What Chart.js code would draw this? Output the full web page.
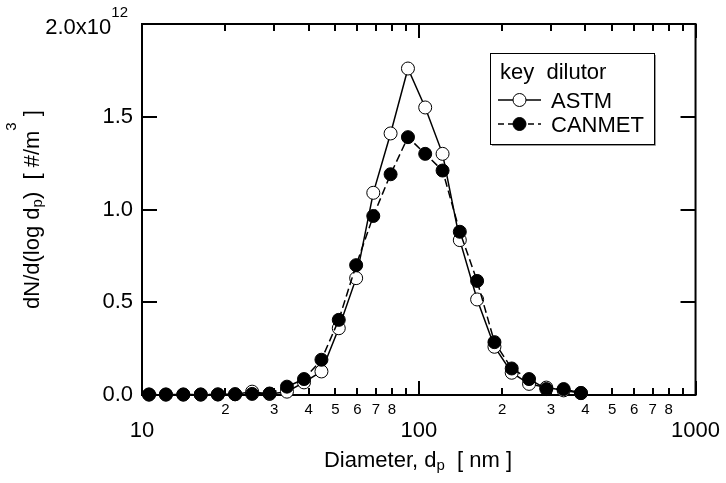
<!DOCTYPE html>
<html>
<head>
<meta charset="utf-8">
<script src="https://cdn.jsdelivr.net/npm/chart.js@4.4.0/dist/chart.umd.min.js"></script>
<style>
  html, body { margin: 0; padding: 0; background: #fff; }
</style>
</head>
<body>
<canvas id="myChart" width="726" height="483"></canvas>
<script>
// ---- data (dN/dlogDp in units of 1e12 #/m3) ----
const diameters = [10.6, 12.2, 14.1, 16.3, 18.8, 21.7, 25.0, 28.9, 33.4, 38.5, 44.5, 51.4, 59.4,
  68.5, 79.1, 91.4, 105.5, 121.9, 140.7, 162.5, 187.7, 216.7, 250.3, 289.0, 333.8, 385.5];
const astm = [0.002, 0.002, 0.002, 0.002, 0.003, 0.004, 0.018, 0.006, 0.018, 0.068, 0.127, 0.36, 0.63,
  1.09, 1.41, 1.76, 1.55, 1.30, 0.835, 0.515, 0.26, 0.12, 0.06, 0.04, 0.025, 0.01];
const canmet = [0.003, 0.003, 0.003, 0.003, 0.003, 0.004, 0.006, 0.008, 0.045, 0.086, 0.19, 0.405, 0.70,
  0.965, 1.19, 1.39, 1.30, 1.21, 0.88, 0.615, 0.285, 0.143, 0.086, 0.032, 0.032, 0.011];
const xTicks = [10, 20, 30, 40, 50, 60, 70, 80, 90, 100, 200, 300, 400, 500, 600, 700, 800, 900, 1000];
const yTicks = [0, 0.5, 1.0, 1.5, 2.0];

const FONT = "'Liberation Sans', Arial, sans-serif";
const BIG = 22, SMALL = 15;
const isMajor = (v) => v === 10 || v === 100 || v === 1000;

// draw text made of pieces (normal / sub / sup)
function drawRich(ctx, parts, x, y, align) {
  let total = 0;
  parts.forEach(p => { ctx.font = p.size + "px " + FONT; total += ctx.measureText(p.t).width; });
  let cx = align === "center" ? x - total / 2 : (align === "right" ? x - total : x);
  ctx.textAlign = "left";
  ctx.textBaseline = "alphabetic";
  parts.forEach(p => {
    ctx.font = p.size + "px " + FONT;
    ctx.fillText(p.t, cx, y + (p.dy || 0));
    cx += ctx.measureText(p.t).width;
  });
}

//////////////////////// frame + inward ticks ////////////////////////
const framePlugin = {
  id: "frame",
  beforeDatasetsDraw(chart) {
    const { ctx, chartArea: a, scales } = chart;
    const x = scales.x, y = scales.y;
    ctx.save();
    ctx.strokeStyle = "#000";
    ctx.lineWidth = 2;
    ctx.strokeRect(a.left, a.top, a.right - a.left, a.bottom - a.top);
    ctx.beginPath();
    xTicks.forEach(v => {
      const px = Math.round(x.getPixelForValue(v));
      const len = isMajor(v) ? 14 : 7;
      ctx.moveTo(px, a.bottom); ctx.lineTo(px, a.bottom - len);
      ctx.moveTo(px, a.top); ctx.lineTo(px, a.top + len);
    });
    yTicks.forEach(v => {
      const py = Math.round(y.getPixelForValue(v));
      ctx.moveTo(a.left, py); ctx.lineTo(a.left + 15, py);
      ctx.moveTo(a.right, py); ctx.lineTo(a.right - 15, py);
    });
    ctx.stroke();
    ctx.restore();
  },
  afterDraw(chart) {
    const { ctx, chartArea: a, scales } = chart;
    ctx.save();
    ctx.fillStyle = "#000";
    // top y label 2.0x10^12
    const yTop = scales.y.getPixelForValue(2.0);
    drawRich(ctx, [{ t: "2.0x10", size: BIG }, { t: "12", size: SMALL, dy: -16.5 }], 128, yTop + 9.5, "right");
    // x title
    drawRich(ctx, [{ t: "Diameter, d", size: BIG }, { t: "p", size: SMALL, dy: 3 }, { t: "  [ nm ]", size: BIG }],
      418, 467, "center");
    // y title
    ctx.save();
    ctx.translate(39, (a.top + a.bottom) / 2);
    ctx.rotate(-Math.PI / 2);
    drawRich(ctx, [{ t: "dN/d(log d", size: BIG }, { t: "p", size: SMALL, dy: 3 }, { t: ")  [ #/m", size: BIG },
      { t: "3", size: SMALL, dy: -23 }, { t: " ]", size: BIG }], 0, 0, "center");
    ctx.restore();

    // legend box
    const bx = 490, by = 53, bw = 164, bh = 91;
    ctx.fillStyle = "#fff";
    ctx.fillRect(bx, by, bw, bh);
    ctx.strokeStyle = "#999";
    ctx.lineWidth = 1;
    ctx.beginPath();
    ctx.moveTo(bx + bw + 1.5, by + 2); ctx.lineTo(bx + bw + 1.5, by + bh + 1.5); ctx.lineTo(bx + 2, by + bh + 1.5);
    ctx.stroke();
    ctx.strokeStyle = "#000";
    ctx.strokeRect(bx + 0.5, by + 0.5, bw, bh);
    ctx.fillStyle = "#000";
    drawRich(ctx, [{ t: "key  dilutor", size: BIG }], 500, 79, "left");
    const rows = [
      { label: "ASTM", ly: 100, dash: [], fill: "#fff" },
      { label: "CANMET", ly: 124, dash: [6, 4], fill: "#000" }
    ];
    rows.forEach(r => {
      ctx.strokeStyle = "#000";
      ctx.lineWidth = 1.5;
      ctx.setLineDash(r.dash);
      ctx.beginPath();
      ctx.moveTo(498, r.ly); ctx.lineTo(541, r.ly);
      ctx.stroke();
      ctx.setLineDash([]);
      ctx.beginPath();
      ctx.arc(519.5, r.ly, 6.5, 0, Math.PI * 2);
      ctx.fillStyle = r.fill;
      ctx.fill();
      ctx.lineWidth = 1;
      ctx.stroke();
      ctx.fillStyle = "#000";
      drawRich(ctx, [{ t: r.label, size: BIG }], 551, r.ly + 8, "left");
    });
    ctx.restore();
  }
};

//////////////////////// chart ////////////////////////
const data = {
  datasets: [
    {
      label: "ASTM",
      data: diameters.map((d, i) => ({ x: d, y: astm[i] })),
      showLine: true,
      borderColor: "#000",
      borderWidth: 1.5,
      pointRadius: 6.5,
      pointBorderWidth: 1,
      pointBackgroundColor: "#fff",
      pointBorderColor: "#000",
      order: 1,
      clip: false
    },
    {
      label: "CANMET",
      data: diameters.map((d, i) => ({ x: d, y: canmet[i] })),
      showLine: true,
      borderColor: "#000",
      borderWidth: 1.5,
      borderDash: [8, 4],
      pointRadius: 6.5,
      pointBorderWidth: 1,
      pointBackgroundColor: "#000",
      pointBorderColor: "#000",
      order: 0,
      clip: false
    }
  ]
};

const config = {
  type: "scatter",
  data: data,
  plugins: [framePlugin],
  options: {
    responsive: false,
    animation: false,
    layout: { padding: { top: 24, right: 27, left: 0, bottom: 0 } },
    plugins: { legend: { display: false }, tooltip: { enabled: false } },
    scales: {
      x: {
        type: "logarithmic",
        min: 10,
        max: 1000,
        grid: { display: false, drawTicks: false },
        border: { display: false },
        afterBuildTicks: (s) => { s.ticks = xTicks.map(v => ({ value: v, major: isMajor(v) })); },
        afterFit: (s) => { s.height = 88; },
        ticks: {
          autoSkip: false,
          maxRotation: 0,
          minRotation: 0,
          padding: 6,
          color: "#000",
          font: (c) => (c.tick && isMajor(c.tick.value))
            ? { family: FONT, size: BIG, lineHeight: 0.9 }
            : { family: FONT, size: SMALL, lineHeight: 1.2 },
          callback: (v) => {
            if (isMajor(v)) return ["", String(v)];
            const d = Math.round(v / Math.pow(10, Math.floor(Math.log10(v) + 1e-9)));
            return d === 9 ? "" : String(d);
          }
        }
      },
      y: {
        type: "linear",
        min: 0,
        max: 2.0,
        grid: { display: false, drawTicks: false },
        border: { display: false },
        afterBuildTicks: (s) => { s.ticks = yTicks.map(v => ({ value: v })); },
        afterFit: (s) => { s.width = 142; },
        ticks: {
          padding: 9,
          color: "#000",
          font: { family: FONT, size: BIG },
          callback: (v) => (v >= 2 ? "" : v.toFixed(1))
        }
      }
    }
  }
};

const myChart = new Chart(document.getElementById("myChart"), config);
</script>
</body>
</html>
